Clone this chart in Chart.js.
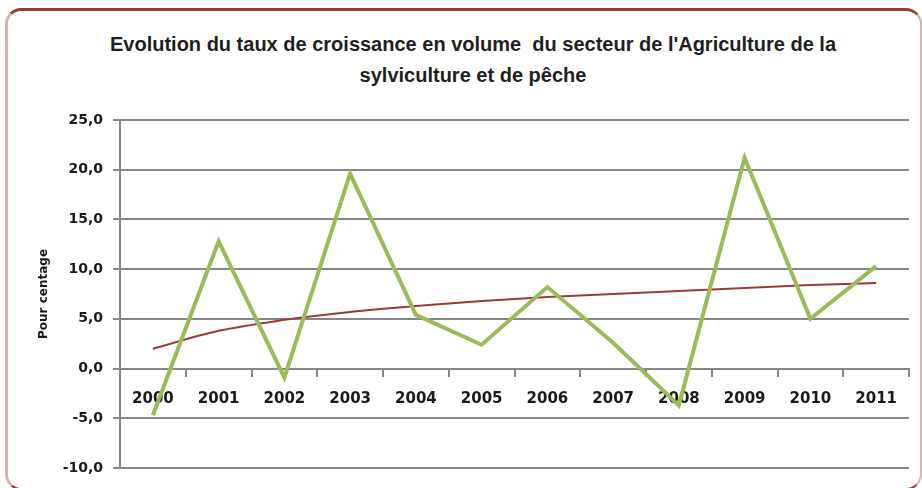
<!DOCTYPE html>
<html>
<head>
<meta charset="utf-8">
<script src="https://cdn.jsdelivr.net/npm/chart.js@4/dist/chart.umd.min.js"></script>
<style>
    html, body { margin: 0; padding: 0; background: #fff; }
    .wrap { position: relative; width: 922px; height: 488px; overflow: hidden; }
    .frame {
        position: absolute; left: 5px; top: 8px; width: 912px; height: 477px;
        border-top: 3px solid #963c38; border-left: 3px solid #d6b3b3;
        border-right: 2px solid #d6b3b3; border-bottom: 2px solid #963c38;
        border-radius: 16px;
    }
    .title {
        position: absolute; left: 0; top: 29px; width: 946px; text-align: center;
        font: bold 20px "Liberation Sans Narrow", "Arial Narrow", sans-serif;
        line-height: 31px; color: #1f1f1f;
    }
    canvas { position: absolute; left: 0; top: 0; }
</style>
</head>
<body>
<div class="wrap">
    <div class="frame"></div>
    <div class="title">Evolution du taux de croissance en volume&nbsp; du secteur de l'Agriculture de la<br>sylviculture et de pêche</div>
    <canvas id="chart" width="922" height="488"></canvas>
</div>
<script>
const years = ['2000', '2001', '2002', '2003', '2004', '2005', '2006', '2007', '2008', '2009', '2010', '2011'];
const croissance = [-4.7, 12.8, -0.9, 19.6, 5.4, 2.4, 8.2, 2.6, -3.7, 21.2, 5.0, 10.3];
const tendance = [2.0, 3.8, 4.9, 5.7, 6.3, 6.8, 7.2, 7.5, 7.8, 8.1, 8.4, 8.6];
const yTicks = [-10, -5, 0, 5, 10, 15, 20, 25];

const gridGray = '#878787';
const boldFont = { family: '"DejaVu Sans", sans-serif', weight: 'bold' };

const ctx = document.getElementById('chart').getContext('2d');
new Chart(ctx, {
    type: 'line',
    data: {
        labels: years,
        datasets: [{
            label: 'Taux de croissance',
            data: croissance,
            borderColor: '#9bbb59',
            borderWidth: 4,
            pointRadius: 0,
            tension: 0
        }, {
            label: 'Tendance',
            data: tendance,
            borderColor: '#9b3b38',
            borderWidth: 2,
            pointRadius: 0,
            cubicInterpolationMode: 'monotone'
        }]
    },
    options: {
        responsive: false,
        animation: false,
        layout: { padding: { left: 0, top: 120, right: 13, bottom: 20 } },
        plugins: {
            legend: { display: false },
            tooltip: { enabled: false }
        },
        scales: {
            x: {
                position: { y: 0 },
                offset: true,
                grid: {
                    offset: true,
                    drawOnChartArea: false,
                    drawTicks: true,
                    tickLength: 7,
                    color: gridGray,
                    lineWidth: 2
                },
                border: { color: gridGray, width: 2 },
                ticks: {
                    color: '#1a1a1a',
                    font: { ...boldFont, size: 15 },
                    padding: 15,
                    maxRotation: 0,
                    autoSkip: false
                }
            },
            y: {
                min: -10,
                max: 25,
                afterBuildTicks: (scale) => {
                    scale.ticks = yTicks.map(v => ({ value: v }));
                },
                afterFit: (scale) => {
                    scale.width = 120;
                },
                grid: {
                    color: gridGray,
                    lineWidth: 2,
                    tickLength: 7
                },
                border: { color: gridGray, width: 2 },
                ticks: {
                    color: '#1a1a1a',
                    font: { ...boldFont, size: 14 },
                    padding: 10,
                    callback: (v) => v.toFixed(1).replace('.', ',')
                },
                title: {
                    display: true,
                    text: 'Pour centage',
                    color: '#1a1a1a',
                    font: { ...boldFont, size: 12 },
                    padding: { top: 37, bottom: 0 }
                }
            }
        }
    }
});
</script>
</body>
</html>
